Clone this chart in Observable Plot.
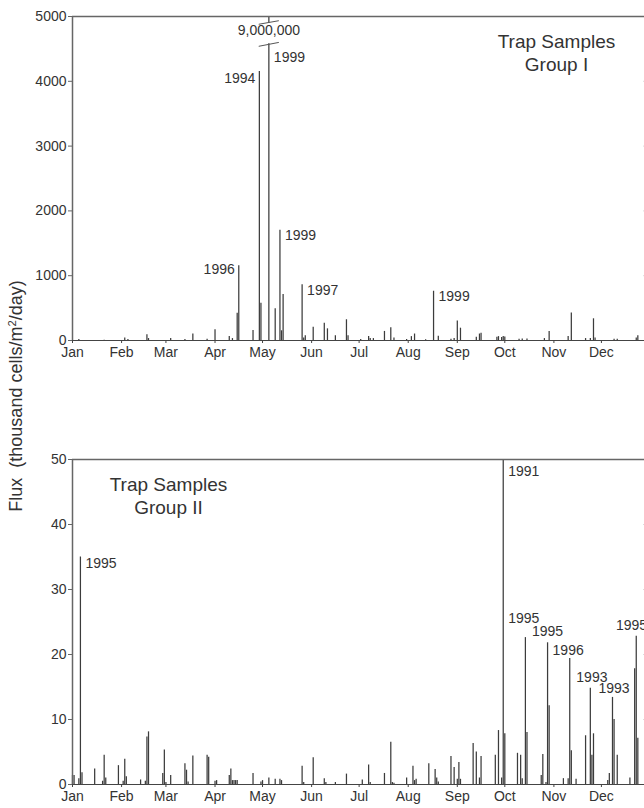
<!DOCTYPE html>
<html><head><meta charset="utf-8">
<script src="https://cdn.jsdelivr.net/npm/d3@7"></script>
<script src="https://cdn.jsdelivr.net/npm/@observablehq/plot@0.6"></script>
<style>
html,body{margin:0;padding:0;background:#fff;overflow:hidden;}
#wrap{position:relative;width:644px;height:808px;overflow:hidden;font-family:"Liberation Sans",Arial,sans-serif;background:#fff;}
#p1{position:absolute;left:0;top:0;width:650px;}
#p2{position:absolute;left:0;top:440px;width:650px;}
#ylab{position:absolute;left:16px;top:396px;transform:translate(-50%,-50%) rotate(-90deg);white-space:nowrap;font-size:18px;color:#333;line-height:1;}
#ylab sup{font-size:0.62em;vertical-align:0.55em;line-height:0;}
</style></head><body>
<div id="wrap"><div id="p1"></div><div id="p2"></div><div id="ylab">Flux&nbsp; (thousand cells/m<sup>2</sup>/day)</div></div>
<script>
// ---- tick labels ----
const monthLabels = ["Jan","Feb","Mar","Apr","May","Jun","Jul","Aug","Sep","Oct","Nov","Dec"];
const yTicksI = [0, 1000, 2000, 3000, 4000, 5000];
const yTicksII = [0, 10, 20, 30, 40, 50];

// ---- Group I (day of year, flux) ----
const groupIDays = [4,20,33,35,47,48,62,71,76,85,90,99,101,104,105,114,118,119,124,128,131,132,133,145,146,147,152,159,161,166,173,174,182,187,188,190,197,201,203,211,214,216,223,228,231,239,241,243,245,255,257,258,268,269,271,272,273,282,284,287,298,301,313,315,324,327,329,330,342,344,356,357];
const groupIValues = [15,5,40,15,90,30,30,15,100,20,165,60,30,420,1155,155,4150,575,9000000,490,1700,150,710,860,40,75,205,265,180,75,320,75,15,60,30,30,140,195,40,15,60,100,10,760,65,20,30,300,190,50,100,110,50,60,45,60,55,20,25,25,30,140,60,425,30,30,335,40,20,20,40,75];

// ---- Group II (day of year, flux) ----
const groupIIDays = [0,1,4,5,6,14,19,20,21,29,32,33,34,43,46,47,48,57,58,59,62,71,72,73,76,85,86,90,91,99,100,101,102,103,104,114,119,120,124,128,131,132,145,146,152,159,160,166,173,183,187,188,197,201,202,203,211,215,216,217,225,229,230,231,239,241,243,244,245,253,255,257,258,267,269,271,272,273,281,283,284,286,287,296,297,299,300,301,310,313,314,315,318,324,327,328,329,338,339,341,342,344,352,355,356,357];
const groupIIValues = [1.4,1.4,0.9,35,1.8,2.4,0.5,4.5,1.0,2.9,0.5,3.9,1.2,0.7,0.5,7.3,8.1,1.7,5.3,0.3,1.4,3.2,2.2,0.4,4.4,4.5,4.2,0.5,0.6,1.4,2.4,0.6,0.6,0.6,0.6,1.7,0.4,0.6,1.0,0.8,0.8,0.6,2.8,0.3,4.1,0.9,0.3,0.3,1.6,0.7,3.0,0.3,1.7,6.5,0.3,0.2,1.0,2.8,0.6,0.8,3.2,2.3,1.0,0.4,4.3,2.6,0.8,3.4,0.8,6.3,5.0,1.0,4.3,4.5,8.3,1.0,50,7.8,4.8,4.5,0.9,22.6,8.0,1.4,4.6,0.3,21.8,12.1,0.9,0.9,19.4,5.2,0.8,7.5,14.8,4.5,7.8,0.6,1.7,13.4,10.0,4.5,1.0,17.8,22.8,7.1];

// ---- annotations ----
const labelIDays = [118, 124, 105, 131, 145, 228];
const labelIValues = [4046, 4369, 1092, 1615, 769, 677];
const labelITexts = ["1994", "1999", "1996", "1999", "1997", "1999"];
const labelISides = ["end", "start", "end", "start", "start", "start"];

const labelIIDays = [5, 272, 285, 300, 313, 328, 342, 353];
const labelIIValues = [34.0, 48.2, 25.6, 23.5, 20.6, 16.5, 14.8, 24.4];
const labelIITexts = ["1995", "1991", "1995", "1995", "1996", "1993", "1993", "1995"];
const labelIISides = ["start", "start", "middle", "middle", "middle", "middle", "middle", "middle"];

const breakDay = 124;
const breakText = "9,000,000";
const breakTextValue = 4784;
const breakGap = [4580, 4900];
const breakMarkDays = [117.6, 130.3];
const breakMarkUpper = [4880, 4935];
const breakMarkLower = [4540, 4600];

const titleI = "Trap Samples\nGroup I";
const titleII = "Trap Samples\nGroup II";

// ---- build ----
const base = Date.UTC(2001, 0, 1);
const toDate = d => new Date(base + d * 864e5);
const xDomain = [toDate(0), toDate(365)];
const monthTicks = monthLabels.map((m, i) => new Date(Date.UTC(2001, i, 1)));
const fmtMonth = d => monthLabels[d.getUTCMonth()];

const dataI = groupIDays.map((d, i) => ({date: toDate(d), value: groupIValues[i]}));
const dataII = groupIIDays.map((d, i) => ({date: toDate(d), value: groupIIValues[i]}));
const labI = labelIDays.map((d, i) => ({date: toDate(d), value: labelIValues[i], text: labelITexts[i], side: labelISides[i]}));
const labII = labelIIDays.map((d, i) => ({date: toDate(d), value: labelIIValues[i], text: labelIITexts[i], side: labelIISides[i]}));

const font = "'Liberation Sans', Arial, Helvetica, sans-serif";
const ink = "#333";
const barColor = "#3c3c3c";
const frameColor = "#666";

function labelMarks(lab) {
  return [
    Plot.text(lab.filter(d => d.side === "end"), {x: "date", y: "value", text: "text", textAnchor: "end", dx: -4, fontSize: 14, fill: ink}),
    Plot.text(lab.filter(d => d.side === "start"), {x: "date", y: "value", text: "text", textAnchor: "start", dx: 5, fontSize: 14, fill: ink}),
    Plot.text(lab.filter(d => d.side === "middle"), {x: "date", y: "value", text: "text", textAnchor: "middle", fontSize: 14, fill: ink})
  ];
}

function panel({data, yMax, yTicks, height, marginTop, title, titleDx, labels, extra}) {
  return Plot.plot({
    width: 650, height, marginTop, marginBottom: 30, marginLeft: 72, marginRight: 0,
    x: {type: "utc", domain: xDomain},
    y: {domain: [0, yMax]},
    style: {fontFamily: font, fontSize: "14px", color: ink, background: "white", maxWidth: "none", overflow: "visible"},
    marks: [
      Plot.ruleX(data, {x: "date", y1: 0, y2: d => Math.min(d.value, yMax), stroke: barColor, strokeWidth: 1.25}),
      ...(extra || []),
      Plot.ruleY([yMax], {stroke: frameColor, strokeWidth: 1.5}),
      Plot.ruleY([0], {stroke: "#444", strokeWidth: 1.2}),
      Plot.ruleX([xDomain[0]], {stroke: frameColor, strokeWidth: 1.5}),
      Plot.ruleY(yTicks.slice(1, -1), {x1: toDate(361), x2: toDate(365), stroke: "#999", strokeWidth: 1}),
      Plot.axisY({ticks: yTicks, tickSize: 4, tickPadding: 2, tickFormat: d => String(d), label: null, stroke: frameColor, fill: ink, fontSize: 14}),
      Plot.axisX({ticks: monthTicks, tickFormat: fmtMonth, tickSize: 3, tickPadding: 4, label: null, stroke: "#444", fill: ink, fontSize: 14}),
      Plot.text([title], {frameAnchor: "top-left", dx: titleDx, dy: 14, textAnchor: "middle", lineAnchor: "top", lineHeight: 1.26, fontSize: 19, fill: ink}),
      ...labelMarks(labels)
    ]
  });
}

const breakMarks = [
  Plot.ruleX([breakDay], {x: d => toDate(d), y1: breakGap[0], y2: breakGap[1], stroke: "white", strokeWidth: 4}),
  Plot.text([breakText], {x: toDate(breakDay), y: breakTextValue, text: d => d, textAnchor: "middle", fontSize: 14, fill: ink}),
  Plot.link([breakMarkUpper, breakMarkLower], {x1: toDate(breakMarkDays[0]), x2: toDate(breakMarkDays[1]), y1: d => d[0], y2: d => d[1], stroke: "#555", strokeWidth: 1})
];

document.getElementById("p1").append(panel({
  data: dataI, yMax: 5000, yTicks: yTicksI, height: 370, marginTop: 16,
  title: titleI, titleDx: 484, labels: labI, extra: breakMarks
}));
document.getElementById("p2").append(panel({
  data: dataII, yMax: 50, yTicks: yTicksII, height: 374, marginTop: 19,
  title: titleII, titleDx: 96, labels: labII
}));
</script>
</body></html>
